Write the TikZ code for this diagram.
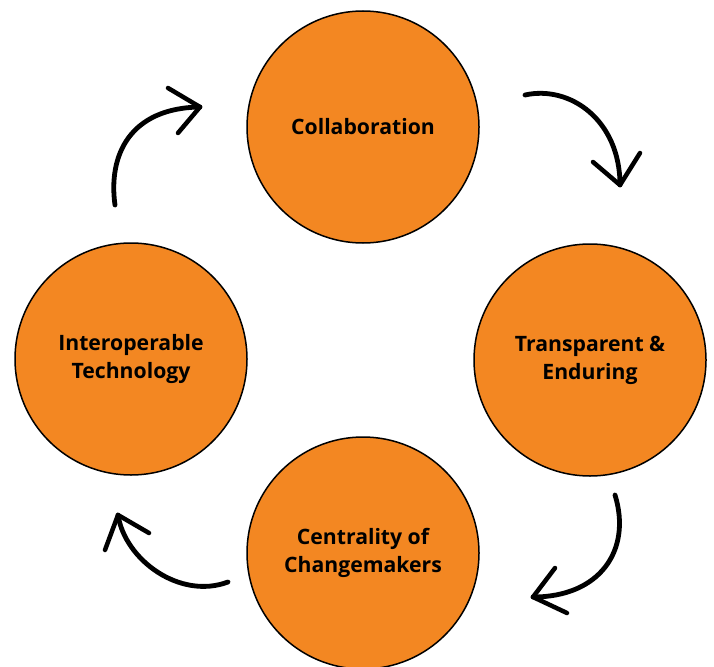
\documentclass[tikz,border=0pt]{standalone}
\usepackage{fontspec}
\setmainfont{Open Sans}
\definecolor{orangefill}{HTML}{F38722}
\begin{document}
\begin{tikzpicture}[x=1pt,y=-1pt,
  bubble/.style={circle,draw=black,line width=1.5pt,fill=orangefill,minimum size=232pt,inner sep=0pt,align=center,font=\fontsize{21.2}{28}\selectfont\bfseries},
  curvearrow/.style={line width=4.8pt,line cap=round,line join=round},
  arrowhead/.style={line width=4.5pt,line cap=round,line join=round}]
\useasboundingbox (0,0) rectangle (714,666);
\clip (0,0) rectangle (714,666);
\node[bubble] (collab) at (363,127) {Collaboration};
\node[bubble] (transp) at (590,360) {Transparent \&\\Enduring};
\node[bubble] (central) at (363,553) {Centrality of\\Changemakers};
\node[bubble] (interop) at (131,359) {Interoperable\\Technology};
% arrow 1
\coordinate (a1s) at (115,205);
\coordinate (a1t) at (200,107);
\coordinate (a1l) at (168,88);
\coordinate (a1r) at (178,133);
\draw[curvearrow] (a1s) .. controls (108,155) and (130,108) .. (a1t);
\draw[arrowhead] (a1l) -- (a1t) -- (a1r);
% arrow 2
\coordinate (a2s) at (525,95);
\coordinate (a2t) at (620,185);
\coordinate (a2l) at (593,162);
\coordinate (a2r) at (640,153);
\draw[curvearrow] (a2s) .. controls (570,85) and (620,120) .. (a2t);
\draw[arrowhead] (a2l) -- (a2t) -- (a2r);
% arrow 3
\coordinate (a3s) at (615,495);
\coordinate (a3t) at (533,597);
\coordinate (a3l) at (555,568);
\coordinate (a3r) at (567,613);
\draw[curvearrow] (a3s) .. controls (632,550) and (600,597) .. (a3t);
\draw[arrowhead] (a3l) -- (a3t) -- (a3r);
% arrow 4
\coordinate (a4s) at (228,582);
\coordinate (a4t) at (118,515);
\coordinate (a4l) at (105,550);
\coordinate (a4r) at (149,533);
\draw[curvearrow] (a4s) .. controls (180,600) and (125,560) .. (a4t);
\draw[arrowhead] (a4l) -- (a4t) -- (a4r);
\end{tikzpicture}
\end{document}
